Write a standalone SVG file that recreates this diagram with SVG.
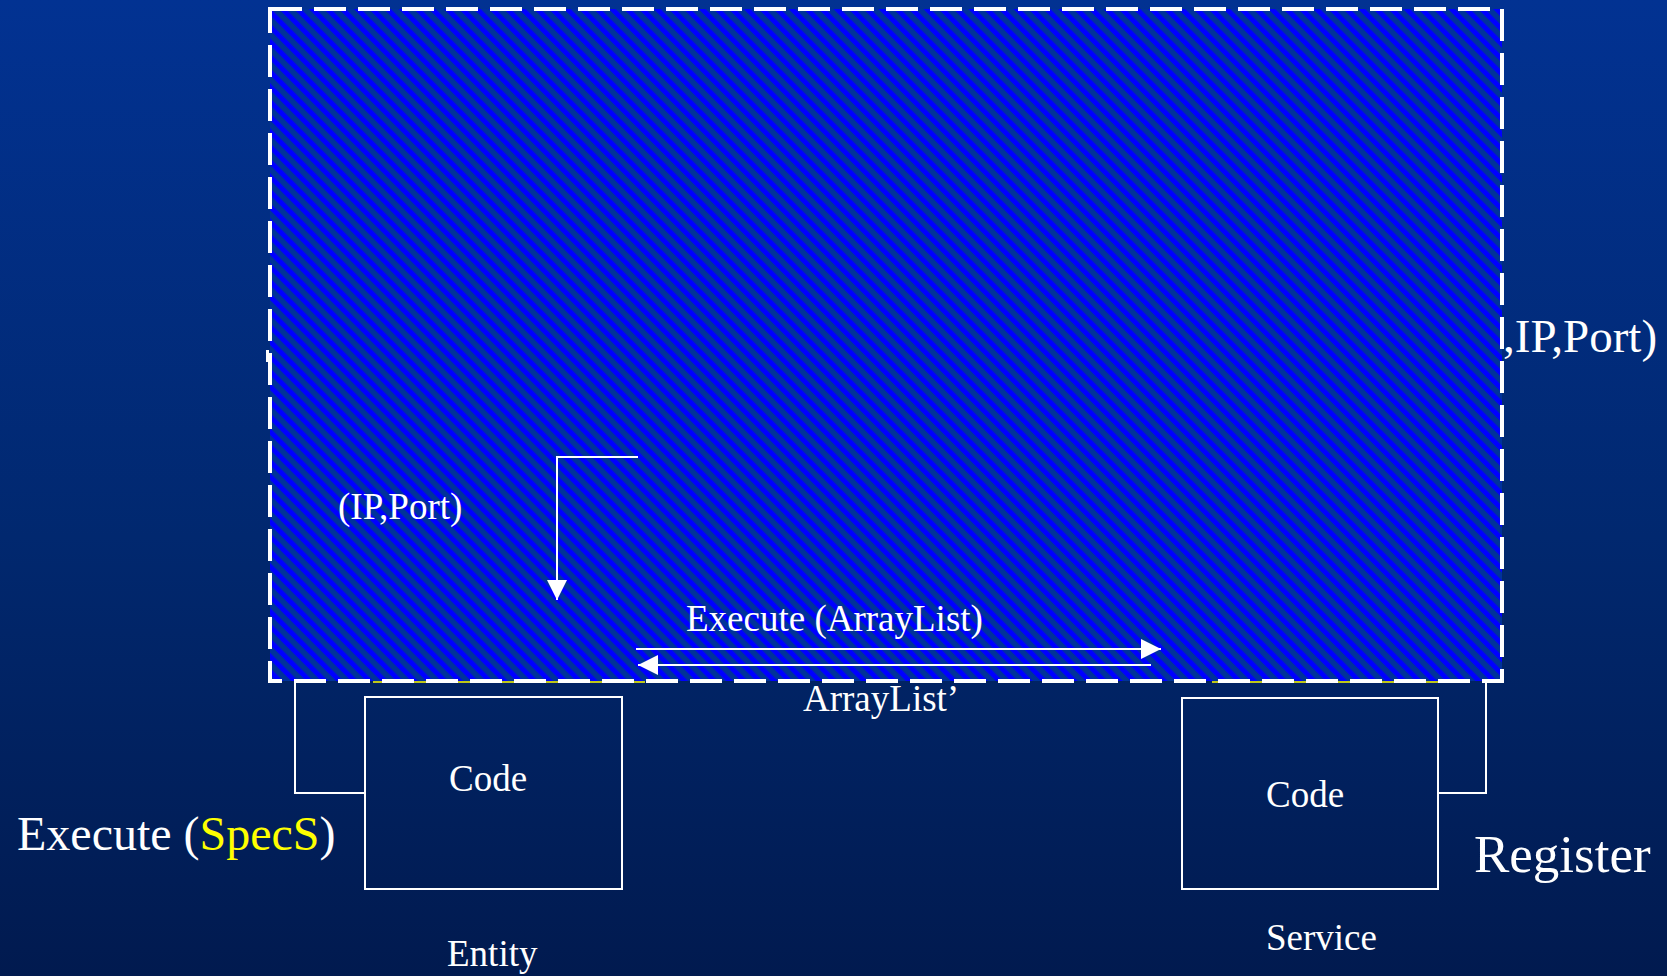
<svg xmlns="http://www.w3.org/2000/svg" width="1667" height="976" viewBox="0 0 1667 976">
  <defs>
    <linearGradient id="bg" x1="0" y1="0" x2="0" y2="1">
      <stop offset="0" stop-color="#023292"/>
      <stop offset="0.55" stop-color="#01286F"/>
      <stop offset="1" stop-color="#011A4F"/>
    </linearGradient>
    <pattern id="hatch" patternUnits="userSpaceOnUse" width="10.6" height="10.6" patternTransform="rotate(-45)">
      <rect width="10.6" height="10.6" fill="#003399"/>
      <rect width="5" height="10.6" fill="#0000FF"/>
    </pattern>
    <marker id="head" viewBox="0 0 20 20" refX="20" refY="10" markerWidth="20" markerHeight="20" markerUnits="userSpaceOnUse" orient="auto">
      <path d="M0,0 L20,10 L0,20 z" fill="#FFFFFF"/>
    </marker>
    <style>
      .t { font-family: "Liberation Serif", "Times New Roman", serif; fill: #FFFFFF; }
      .box { fill: none; stroke: #FFFFFF; stroke-width: 2; }
      .conn { fill: none; stroke: #FFFFFF; stroke-width: 2; }
      .arr { fill: none; stroke: #FFFFFF; stroke-width: 2; marker-end: url(#head); }
      .yel { stroke: #FFFF00; stroke-width: 1.5; }
    </style>
  </defs>

  <rect x="0" y="0" width="1667" height="976" fill="url(#bg)"/>

  <g id="label-ipport-right">
    <text class="t" x="1503" y="352" font-size="47">,IP,Port)</text>
  </g>

  <g id="container">
    <rect x="270" y="9" width="1232" height="672" fill="url(#hatch)"/>
    <line class="yel" x1="373" y1="682" x2="645" y2="682"/>
    <line class="yel" x1="1212" y1="682" x2="1438" y2="682"/>
    <rect x="270" y="9" width="1232" height="672" fill="none" stroke="#FFFFFF" stroke-width="4" stroke-dasharray="32 12"/>
    <rect x="266" y="350" width="3" height="12" fill="#FFFFFF"/>
  </g>

  <g id="connectors">
    <path class="conn" d="M295,681 V793 H365"/>
    <path class="conn" d="M1486,681 V793 H1438"/>
    <path class="arr" d="M638,457 H557 V600"/>
    <path class="arr" d="M636,649 H1161"/>
    <path class="arr" d="M1151,665 H638"/>
  </g>

  <g id="label-ipport-left">
    <text class="t" x="338" y="519" font-size="37">(IP,Port)</text>
  </g>

  <g id="label-execute-arraylist">
    <text class="t" x="686" y="631" font-size="37">Execute (ArrayList)</text>
  </g>

  <g id="label-arraylist-prime">
    <text class="t" x="803" y="711" font-size="37">ArrayList’</text>
  </g>

  <g id="entity">
    <rect class="box" x="365" y="697" width="257" height="192"/>
    <text class="t" x="449" y="791" font-size="37">Code</text>
    <text class="t" x="447" y="966" font-size="37">Entity</text>
  </g>

  <g id="service">
    <rect class="box" x="1182" y="698" width="256" height="191"/>
    <text class="t" x="1266" y="807" font-size="37">Code</text>
    <text class="t" x="1266" y="950" font-size="37">Service</text>
  </g>

  <g id="label-execute-specs">
    <text class="t" x="17" y="850" font-size="48">Execute (<tspan fill="#FFFF00">SpecS</tspan>)</text>
  </g>

  <g id="label-register">
    <text class="t" x="1474" y="872" font-size="53">Register</text>
  </g>
</svg>
